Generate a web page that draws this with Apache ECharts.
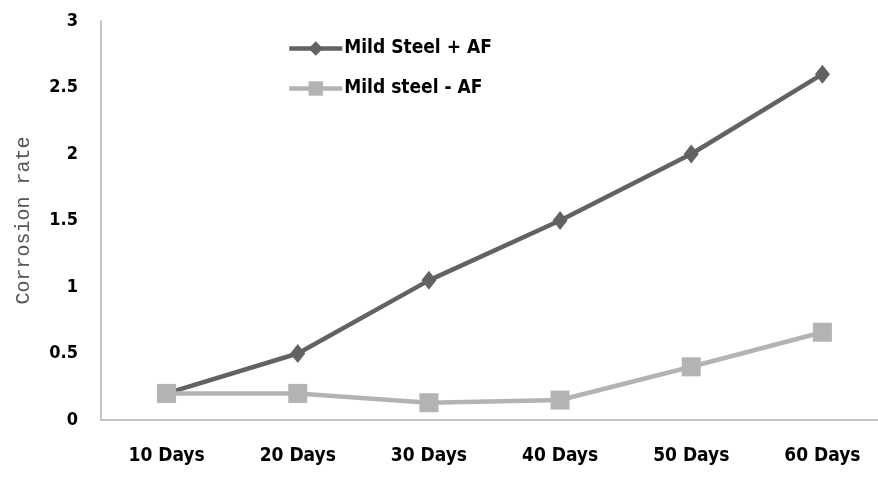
<!DOCTYPE html>
<html>
<head>
<meta charset="utf-8">
<script src="https://cdn.jsdelivr.net/npm/echarts@6/dist/echarts.min.js"></script>
<style>
  html, body { margin: 0; padding: 0; background: #fff; }
  #chart { width: 878px; height: 477px; }
</style>
</head>
<body>
<div id="chart"></div>
<script>
// Exposure periods
const categories = ['10 Days', '20 Days', '30 Days', '40 Days', '50 Days', '60 Days'];
// Corrosion rate with and without AF
const withAF = [0.2, 0.5, 1.05, 1.5, 2.0, 2.6];
const withoutAF = [0.2, 0.2, 0.13, 0.15, 0.4, 0.66];
const seriesNames = ['Mild Steel + AF', 'Mild steel - AF'];

const chart = echarts.init(document.getElementById('chart'));
const labelFont = '"DejaVu Sans Condensed", "DejaVu Sans", sans-serif';

chart.setOption({
  animation: false,
  backgroundColor: '#fff',
  // plot area runs past the right edge of the canvas
  grid: { left: 101, width: 787, top: 21, bottom: 57, containLabel: false, outerBoundsMode: 'none' },
  legend: {
    orient: 'vertical',
    left: 287,
    top: 39,
    padding: 0,
    itemWidth: 53,
    itemHeight: 18,
    itemGap: 21,
    lineStyle: { width: 4.5 },
    textStyle: { fontFamily: labelFont, fontWeight: 'bold', fontSize: 19, color: '#000', padding: [0, 0, 0, -3] },
    data: seriesNames
  },
  xAxis: {
    type: 'category',
    data: categories,
    boundaryGap: true,
    axisLine: { lineStyle: { color: '#b0b0b0', width: 1.5 } },
    axisTick: { show: false },
    axisLabel: { fontFamily: labelFont, fontWeight: 'bold', fontSize: 19, color: '#000', margin: 27 }
  },
  yAxis: {
    type: 'value',
    min: 0,
    max: 3,
    interval: 0.5,
    name: 'Corrosion rate',
    nameLocation: 'middle',
    nameGap: 67,
    nameRotate: 90,
    nameTextStyle: { fontFamily: '"Liberation Mono", "DejaVu Sans Mono", monospace', fontSize: 20, color: '#555' },
    axisLine: { show: true, lineStyle: { color: '#b0b0b0', width: 1.5 } },
    axisTick: { show: false },
    splitLine: { show: false },
    axisLabel: { fontFamily: labelFont, fontWeight: 'bold', fontSize: 18, color: '#000', margin: 23 }
  },
  series: [
    {
      name: seriesNames[0],
      type: 'line',
      data: withAF,
      symbol: 'diamond',
      symbolSize: [15, 19],
      lineStyle: { color: '#626262', width: 4.5 },
      itemStyle: { color: '#626262' },
      z: 2
    },
    {
      name: seriesNames[1],
      type: 'line',
      data: withoutAF,
      symbol: 'rect',
      symbolSize: 19,
      lineStyle: { color: '#b3b3b3', width: 4.5 },
      itemStyle: { color: '#b3b3b3' },
      z: 3
    }
  ]
});
</script>
</body>
</html>
